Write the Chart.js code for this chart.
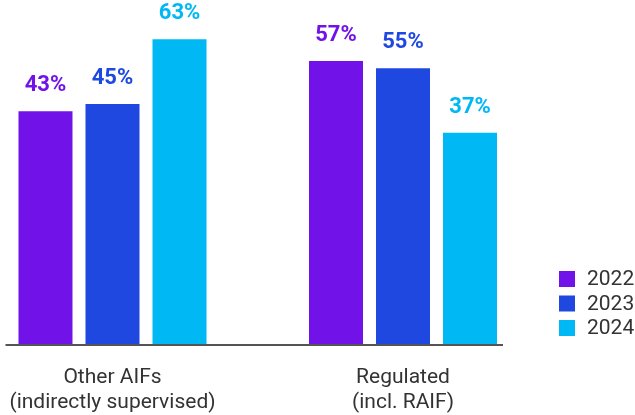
<!DOCTYPE html>
<html>
<head>
<meta charset="utf-8">
<script src="https://cdn.jsdelivr.net/npm/chart.js@4"></script>
<style>
  html, body { margin: 0; padding: 0; background: #fff; }
  #wrap { width: 635px; height: 415px; }
</style>
</head>
<body>
<div id="wrap"><canvas id="myChart" width="635" height="415"></canvas></div>
<script>
const categories = [['Other AIFs', '(indirectly supervised)'], ['Regulated', '(incl. RAIF)']];
const years = ['2022', '2023', '2024'];
const values2022 = [43, 57];
const values2023 = [45, 55];
const values2024 = [63, 37];
const colors = ['#7112E9', '#1E48E0', '#00B8F4'];

const allValues = [values2022, values2023, values2024];

// value labels above the bars
const valueLabels = {
    id: 'valueLabels',
    afterDatasetsDraw(chart) {
        const ctx = chart.ctx;
        ctx.save();
        ctx.font = 'bold 22px Roboto, "Liberation Sans", sans-serif';
        ctx.textAlign = 'center';
        ctx.textBaseline = 'alphabetic';
        chart.data.datasets.forEach((ds, i) => {
            const meta = chart.getDatasetMeta(i);
            meta.data.forEach((bar, j) => {
                ctx.fillStyle = ds.backgroundColor;
                ctx.fillText(ds.data[j] + '%', bar.x, bar.y - 20);
            });
        });
        ctx.restore();
    }
};

// baseline + legend
const extras = {
    id: 'extras',
    afterDraw(chart) {
        const ctx = chart.ctx;
        const area = chart.chartArea;
        const first = chart.getDatasetMeta(0).data[0];
        const lastMeta = chart.getDatasetMeta(chart.data.datasets.length - 1);
        const last = lastMeta.data[lastMeta.data.length - 1];
        ctx.save();
        ctx.strokeStyle = '#555';
        ctx.lineWidth = 2;
        ctx.beginPath();
        ctx.moveTo(first.x - first.width / 2 - 13, area.bottom);
        ctx.lineTo(last.x + last.width / 2 + 6, area.bottom);
        ctx.stroke();

        ctx.font = '21px Roboto, "Liberation Sans", sans-serif';
        ctx.textBaseline = 'middle';
        ctx.textAlign = 'left';
        chart.data.datasets.forEach((ds, i) => {
            const y = 279 + i * 24.5;
            ctx.fillStyle = ds.backgroundColor;
            ctx.fillRect(559, y - 8, 16, 16);
            ctx.fillStyle = '#333';
            ctx.fillText(ds.label, 587, y + 1);
        });
        ctx.restore();
    }
};

const ctx = document.getElementById('myChart').getContext('2d');
const myChart = new Chart(ctx, {
    type: 'bar',
    data: {
        labels: categories,
        datasets: years.map((y, i) => ({
            label: y,
            data: allValues[i],
            backgroundColor: colors[i],
            base: -22,
            clip: false,
            categoryPercentage: 0.692,
            barPercentage: 0.806
        }))
    },
    options: {
        responsive: false,
        animation: false,
        layout: { padding: { left: 112.5, right: 232, top: 7, bottom: 0 } },
        plugins: { legend: { display: false }, tooltip: { enabled: false } },
        scales: {
            x: {
                offset: false,
                grid: { display: false, drawTicks: false },
                border: { display: false },
                afterFit(scale) {
                    scale.paddingLeft = 0;
                    scale.paddingRight = 0;
                    scale.height = 70;
                },
                ticks: {
                    color: '#333',
                    padding: 20,
                    maxRotation: 0,
                    autoSkip: false,
                    font: { size: 21, family: 'Roboto, "Liberation Sans", sans-serif', lineHeight: 1.2 }
                }
            },
            y: {
                display: false,
                min: -22,
                max: 72
            }
        }
    },
    plugins: [valueLabels, extras]
});
</script>
</body>
</html>
